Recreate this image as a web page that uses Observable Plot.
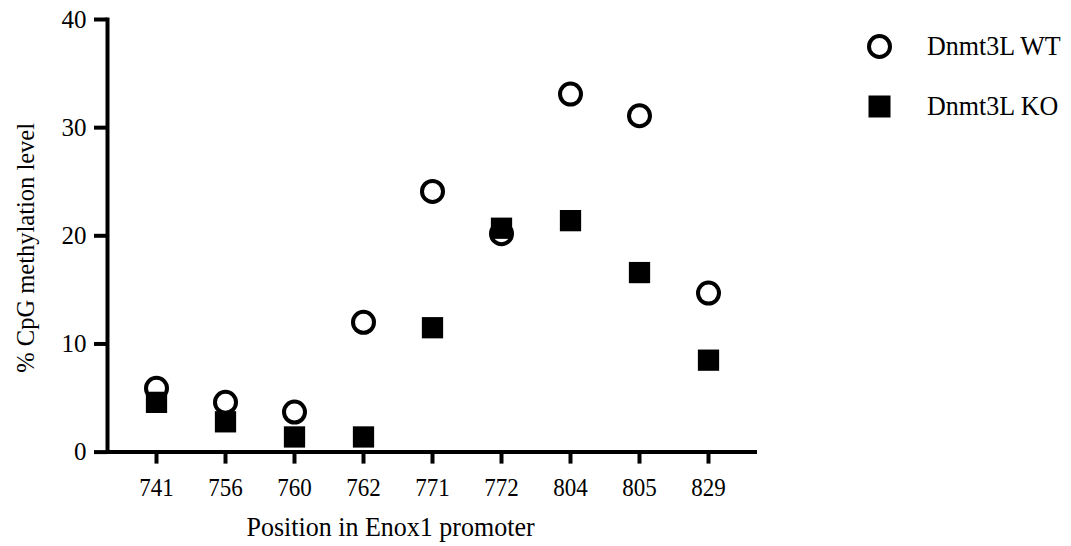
<!DOCTYPE html>
<html>
<head>
<meta charset="utf-8">
<script src="https://cdn.jsdelivr.net/npm/d3@7"></script>
<script src="https://cdn.jsdelivr.net/npm/@observablehq/plot@0.6"></script>
<style>
  html, body { margin: 0; padding: 0; background: #ffffff; }
  #wrap { position: relative; width: 1071px; height: 546px; font-family: "Liberation Serif", "DejaVu Serif", serif; }
  .item { position: absolute; left: 867px; height: 25px; }
  .item svg { position: absolute; left: 0; top: 0; width: 25px; height: 25px; }
  .item span { position: absolute; left: 60px; top: 0; white-space: nowrap; font-size: 27px; line-height: 25px; color: #000;
               display: inline-block; transform: scaleX(0.963); transform-origin: left center; }
</style>
</head>
<body>
<div id="wrap"><div id="legend"></div></div>
<script>
const positions = ["741", "756", "760", "762", "771", "772", "804", "805", "829"];
const wtValues = [5.9, 4.6, 3.7, 12.0, 24.1, 20.2, 33.1, 31.1, 14.7];
const koValues = [4.6, 2.8, 1.4, 1.4, 11.5, 20.7, 21.4, 16.6, 8.5];
const seriesNames = ["Dnmt3L WT", "Dnmt3L KO"];
const yTicks = [0, 10, 20, 30, 40];
const xTitle = "Position in Enox1 promoter";
const yTitle = "% CpG methylation level";

const wtData = positions.map((p, i) => ({pos: p, value: wtValues[i], series: seriesNames[0]}));
const koData = positions.map((p, i) => ({pos: p, value: koValues[i], series: seriesNames[1]}));

const chart = Plot.plot({
  width: 1071,
  height: 546,
  marginLeft: 107,
  marginRight: 314,
  marginTop: 19,
  marginBottom: 94.4,
  style: {fontFamily: "'Liberation Serif', serif", fontSize: "26px", color: "#000", background: "#ffffff"},
  x: {type: "point", domain: positions, padding: 0.67},
  y: {domain: [0, 40]},
  marks: [
    Plot.axisY({ticks: yTicks, tickSize: 13, tickPadding: 8, strokeWidth: 4, label: null}),
    Plot.axisX({tickSize: 12, tickPadding: 13, strokeWidth: 4, label: null}),
    Plot.frame({anchor: "left", strokeWidth: 4, stroke: "#000"}),
    Plot.ruleY([0], {strokeWidth: 4, stroke: "#000"}),
    Plot.dot(wtData, {x: "pos", y: "value", symbol: "circle", r: 10.5, stroke: "#000", strokeWidth: 4, fill: "none"}),
    Plot.dot(koData, {x: "pos", y: "value", symbol: "square", r: 12, fill: "#000", stroke: "none"}),
    Plot.text([xTitle], {frameAnchor: "bottom", textAnchor: "middle", lineAnchor: "middle", dx: -42, dy: 75.4, fill: "#000"}),
    Plot.text([yTitle], {frameAnchor: "left", textAnchor: "middle", lineAnchor: "middle", rotate: -90, dx: -82, dy: 12, fill: "#000"})
  ]
});
document.getElementById("wrap").prepend(chart);

// Narrow, tall serif lettering as in the reference: measure at width size W, draw at height size H.
function fit(el, W, H) {
  el.style.fontSize = W + "px";
  const len = el.getComputedTextLength();
  el.style.fontSize = H + "px";
  el.setAttribute("textLength", len);
  el.setAttribute("lengthAdjust", "spacingAndGlyphs");
}
chart.querySelectorAll('g[aria-label="x-axis tick label"] text').forEach(t => fit(t, 23, 26));
chart.querySelectorAll('g[aria-label="y-axis tick label"] text').forEach(t => fit(t, 25, 26));
chart.querySelectorAll('g[aria-label="text"] text').forEach(t => {
  if (t.textContent === xTitle) fit(t, 26, 28);
  else if (t.textContent === yTitle) fit(t, 24.5, 26);
});

const legend = document.getElementById("legend");
const symbols = [
  '<svg viewBox="0 0 25 25"><circle cx="12.5" cy="12.5" r="10.5" fill="none" stroke="#000" stroke-width="4"/></svg>',
  '<svg viewBox="0 0 25 25"><rect x="1.5" y="1.5" width="22" height="22" fill="#000"/></svg>'
];
seriesNames.forEach((name, i) => {
  const d = document.createElement("div");
  d.className = "item";
  d.style.top = (34 + i * 59.5) + "px";
  d.innerHTML = symbols[i] + '<span>' + name + '</span>';
  legend.appendChild(d);
});
</script>
</body>
</html>
